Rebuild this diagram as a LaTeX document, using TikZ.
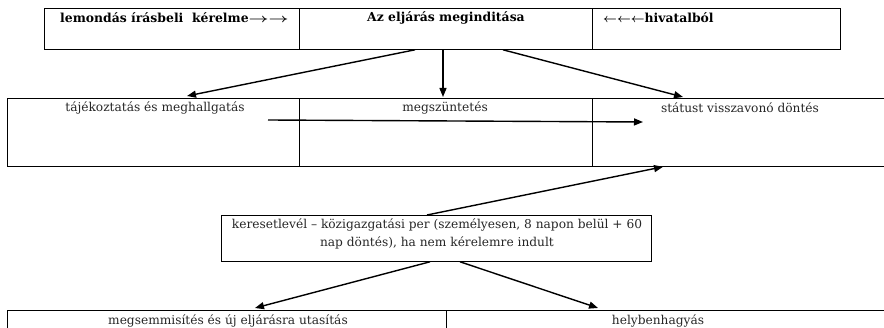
\documentclass[tikz,border=0pt]{standalone}
\usepackage{fontspec}
\setmainfont{DejaVu Serif}
\usetikzlibrary{arrows.meta,calc}
\newcommand{\rarr}{\scalebox{1.45}[1]{$\rightarrow$}}
\newcommand{\larr}{$\leftarrow$}
\begin{document}
\begin{tikzpicture}[x=1pt,y=-1pt,
  cell/.style={draw, line width=0.8pt, inner sep=0pt, anchor=north west},
  txt/.style={inner sep=0pt, font=\fontsize{12.2}{18}\selectfont, text=black!85},
  btxt/.style={inner sep=0pt, font=\fontsize{12.4}{18}\selectfont\bfseries\boldmath},
  arr/.style={line width=1.4pt, -{Triangle[length=9pt,width=7pt]}}]
\useasboundingbox (0,0) rectangle (884,328);
\clip (0,0) rectangle (884,328);
% top row
\node[cell, minimum width=255pt, minimum height=41pt] (t1) at (44,8) {};
\node[cell, minimum width=293pt, minimum height=41pt] (t2) at (299,8) {};
\node[cell, minimum width=248pt, minimum height=41pt] (t3) at (592,8) {};
\node[btxt, anchor=west] (t1t) at (60,18) {lemondás írásbeli\ \ kérelme\rarr\rarr};
\node[btxt] (t2t) at (446,18) {Az eljárás meginditása};
\node[btxt, anchor=west] (t3t) at (603,18) {\larr\larr\larr hivatalból};
% middle row
\node[cell, minimum width=292pt, minimum height=68pt] (m1) at (7,98) {};
\node[cell, minimum width=293pt, minimum height=68pt] (m2) at (299,98) {};
\node[cell, minimum width=300pt, minimum height=68pt] (m3) at (592,98) {};
\node[txt] (m1t) at (155,108) {tájékoztatás és meghallgatás};
\node[txt] (m2t) at (445,108) {megszüntetés};
\node[txt] (m3t) at (740,108) {státust visszavonó döntés};
% keresetlevel
\node[cell, minimum width=430pt, minimum height=46pt] (k) at (221,215) {};
\node[txt, align=center] (kt) at (437,234) {keresetlevél – közigazgatási per (személyesen, 8 napon belül + 60\\nap döntés), ha nem kérelemre indult};
% bottom row
\node[cell, minimum width=439pt, minimum height=40pt] (b1) at (7,310) {};
\node[cell, minimum width=446pt, minimum height=40pt] (b2) at (446,310) {};
\node[txt] (b1t) at (228,321) {megsemmisítés és új eljárásra utasítás};
\node[txt] (b2t) at (658,321) {helybenhagyás};
% connectors
\coordinate (hs) at (268,120);
\coordinate (he) at (643,122);
\draw[arr] ($(t2.south west)+(116,0)$) -- ($(m1.north west)+(180,-2)$);
\draw[arr] ($(t2.south west)+(144,0)$) -- ($(m2.north west)+(144,-1)$);
\draw[arr] ($(t2.south west)+(204,0)$) -- ($(m3.north west)+(91,-1)$);
\draw[arr] (hs) -- (he);
\draw[arr] ($(k.north west)+(206,0)$) -- ($(m3.south west)+(71,0)$);
\draw[arr] ($(k.south west)+(209,0)$) -- ($(b1.north west)+(248,-2)$);
\draw[arr] ($(k.south west)+(239,0)$) -- ($(b2.north west)+(152,-2)$);
\end{tikzpicture}
\end{document}
